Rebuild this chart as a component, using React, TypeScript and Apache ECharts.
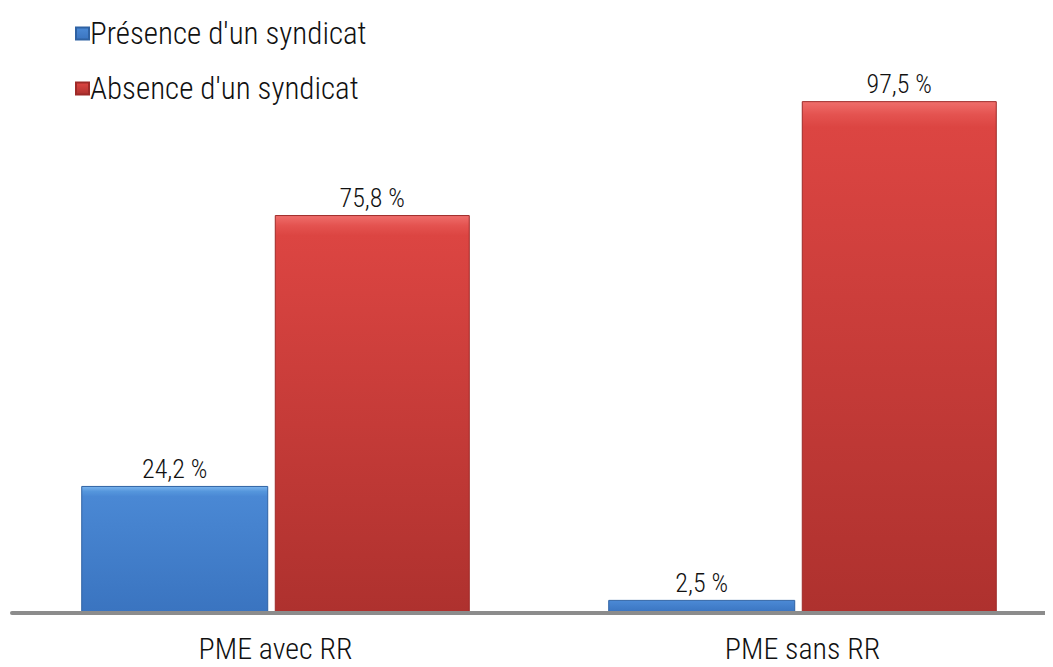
import React, { useEffect, useRef } from "react";
import * as echarts from "echarts";

const categories = ["PME avec RR", "PME sans RR"];
const seriesNames = ["Présence d'un syndicat", "Absence d'un syndicat"];
const presence = [24.2, 2.5];
const absence = [75.8, 97.5];

const FONT = "'Roboto Condensed', 'Liberation Sans', Arial, sans-serif";
const WEIGHT = 360;

const fmt = (v: number) => v.toFixed(1).replace(".", ",") + " %";

export default function App() {
  const ref = useRef<HTMLDivElement>(null);
  useEffect(() => {
    if (!ref.current) return;
    const chart = echarts.init(ref.current, undefined, { renderer: "svg" });
    const blue = new echarts.graphic.LinearGradient(0, 0, 0, 1, [
      { offset: 0, color: "#7ab4ee" },
      { offset: 0.04, color: "#5596dc" },
      { offset: 0.08, color: "#4a88d4" },
      { offset: 1, color: "#3a74c0" },
    ]);
    const red = new echarts.graphic.LinearGradient(0, 0, 0, 1, [
      { offset: 0, color: "#ef6e6b" },
      { offset: 0.025, color: "#e45350" },
      { offset: 0.05, color: "#dc4542" },
      { offset: 1, color: "#ae312e" },
    ]);
    const label = {
      show: true,
      position: "top" as const,
      distance: 4,
      fontFamily: FONT,
      fontWeight: WEIGHT,
      fontSize: 26,
      color: "#111111",
      formatter: (p: any) => fmt(p.value),
    };
    chart.setOption({
      animation: false,
      backgroundColor: "#ffffff",
      textStyle: { fontFamily: FONT },
      legend: {
        orient: "vertical",
        left: 70,
        top: 13,
        itemGap: 24,
        itemWidth: 13,
        itemHeight: 12,
        icon: "rect",
        textStyle: { fontFamily: FONT, fontWeight: WEIGHT, fontSize: 31, color: "#111111", padding: [0, 0, 0, -4] },
        data: seriesNames,
      },
      grid: { left: 12, width: 1054, top: 88, bottom: 54, containLabel: false },
      xAxis: {
        type: "category",
        data: categories,
        z: 5,
        axisLine: { show: true, lineStyle: { color: "#8c8c8c", width: 4 } },
        axisTick: { show: false },
        axisLabel: { fontFamily: FONT, fontWeight: WEIGHT, fontSize: 30, color: "#111111", margin: 20 },
      },
      yAxis: {
        type: "value",
        min: 0,
        max: 100,
        show: false,
        splitLine: { show: false },
      },
      series: [
        {
          name: seriesNames[0],
          type: "bar",
          data: presence,
          barWidth: 187,
          barGap: "3.5%",
          itemStyle: { color: blue, borderColor: "#2f62a3", borderWidth: 1 },
          label,
        },
        {
          name: seriesNames[1],
          type: "bar",
          data: absence,
          barWidth: 195,
          itemStyle: { color: red, borderColor: "#9e2a28", borderWidth: 1 },
          label,
          z: 1,
        },
      ],
    });
    return () => chart.dispose();
  }, []);
  return (
    <div style={{ width: 1053, height: 667, overflow: "hidden", margin: -8 }}>
      <div ref={ref} style={{ width: 1070, height: 667 }} />
    </div>
  );
}
